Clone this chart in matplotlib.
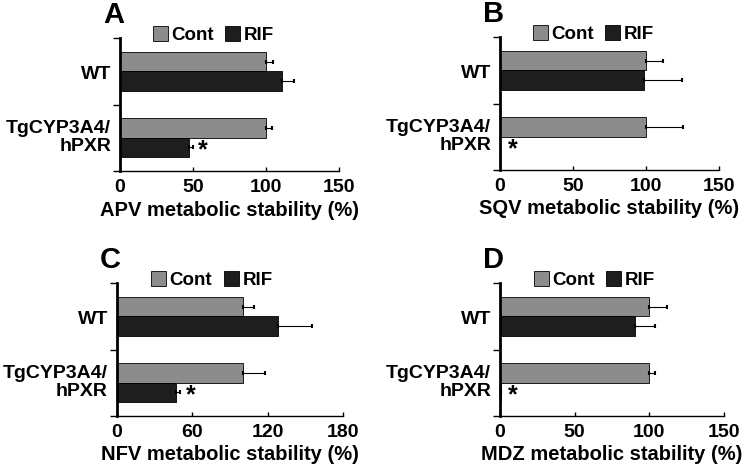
import matplotlib
matplotlib.use("Agg")
import matplotlib.pyplot as plt
from matplotlib.patches import Patch

plt.rcParams["font.family"] = ["Liberation Sans", "DejaVu Sans"]
plt.rcParams["font.weight"] = "bold"

groups = ["WT", "TgCYP3A4/\nhPXR"]
series = ["Cont", "RIF"]

# values per panel: cont / rif means and upper error
panels = ["A", "B", "C", "D"]
drugs = ["APV", "SQV", "NFV", "MDZ"]
cont_vals = [[100, 100], [100, 100], [100, 100], [100, 100]]
cont_errs = [[4.5, 4], [11.5, 25], [9, 18], [11.5, 4]]
rif_vals = [[111, 47], [98.5, 0], [128, 47], [90.5, 0.5]]
rif_errs = [[8, 3], [26, 0], [27, 3], [13, 0]]
star_x = [57, 8.5, 59, 8.5]
xmax = [150, 150, 180, 150]
xstep = [50, 50, 60, 50]

W, H = 742, 466
# axes boxes in pixels: left, top, width, height
boxes = [(120, 38, 219, 133), (500, 37, 219, 133),
         (117, 283, 226, 133), (500, 283, 224, 133)]

cont_color = "#8c8c8c"
rif_color = "#1e1e1e"
bh = 0.29

fig = plt.figure(figsize=(W / 100, H / 100), dpi=100)

for i, p in enumerate(panels):
    l, t, w, h = boxes[i]
    ax = fig.add_axes([l / W, (H - t - h) / H, w / W, h / H])
    ypos = [0, 1]
    ax.barh([y - bh / 2 for y in ypos], cont_vals[i], height=bh, color=cont_color,
            edgecolor="black", linewidth=0.6,
            xerr=[[0, 0], cont_errs[i]], error_kw=dict(ecolor="black", elinewidth=0.8,
                                                       capsize=1.2, capthick=1.5))
    rv = rif_vals[i]
    ax.barh([y + bh / 2 for y in ypos], rv, height=bh, color=rif_color,
            edgecolor="black", linewidth=0.6,
            xerr=[[0, 0], rif_errs[i]], error_kw=dict(ecolor="black", elinewidth=0.8,
                                                      capsize=1.2, capthick=1.5))
    ax.text(star_x[i], 1 + bh / 2 + 0.05, "*", fontsize=18, fontweight="bold",
            ha="center", va="center")

    ax.set_xlim(0, xmax[i])
    ax.set_ylim(1.5, -0.5)
    ax.set_xticks(range(0, xmax[i] + 1, xstep[i]))
    ax.set_yticks([-0.5, 0.5, 1.5])
    ax.set_yticklabels([])
    for y, g in zip(ypos, groups):
        ax.text(-0.04, y + (0.05 if y == 0 else 0), g,
                transform=ax.get_yaxis_transform(), ha="right",
                va="center", fontsize=14, fontweight="bold", linespacing=1.1)
    ax.tick_params(axis="x", labelsize=14, width=1, length=3, direction="in", pad=6)
    ax.tick_params(axis="y", width=1, length=5, direction="out")
    for lbl in ax.get_xticklabels():
        lbl.set_fontweight("bold")
    ax.spines["top"].set_visible(False)
    ax.spines["right"].set_visible(False)
    ax.spines["left"].set_linewidth(2)
    ax.spines["bottom"].set_linewidth(1)
    ax.set_xlabel(f"{drugs[i]} metabolic stability (%)", fontsize=14.5,
                  fontweight="bold", labelpad=3)

    handles = [Patch(facecolor=cont_color, edgecolor="black", linewidth=0.6),
               Patch(facecolor=rif_color, edgecolor="black", linewidth=0.6)]
    ax.legend(handles, series, loc="center left", bbox_to_anchor=(0.15, 1.02),
              ncol=2, frameon=False, fontsize=13.5, handlelength=0.8,
              handleheight=0.8, handletextpad=0.2, columnspacing=0.6,
              borderaxespad=0, borderpad=0)
    ax.text(-0.03, 1.17, p, transform=ax.transAxes, fontsize=21,
            fontweight="bold", ha="center", va="center")

fig.savefig("out.png", dpi=100)
